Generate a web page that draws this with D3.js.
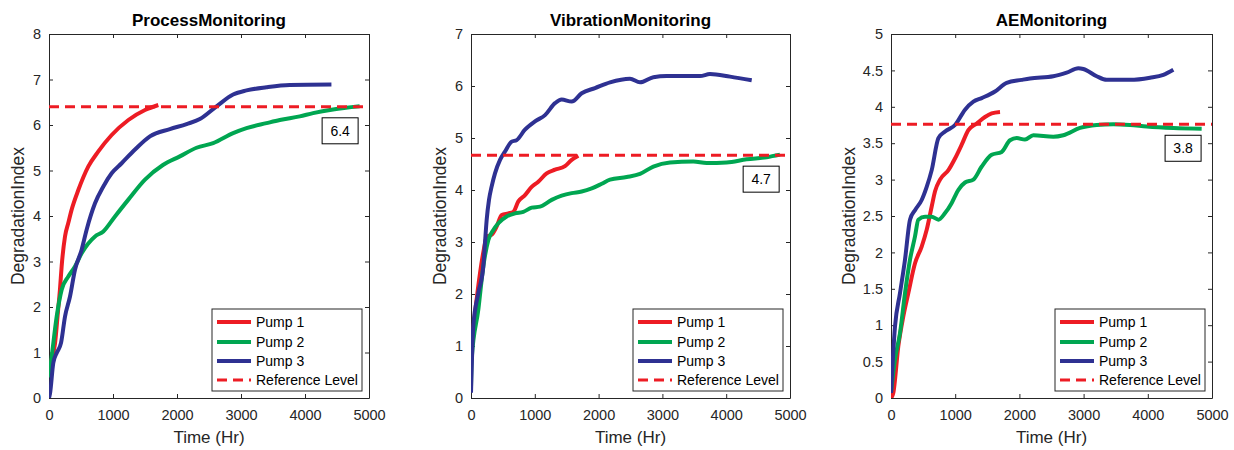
<!DOCTYPE html>
<html><head><meta charset="utf-8">
<script src="https://cdn.jsdelivr.net/npm/d3@7"></script>
<style>
body{margin:0;background:#fff;}
svg{display:block;font-family:"Liberation Sans",Arial,Helvetica,sans-serif;}
</style>
</head><body>
<svg id="c" width="1234" height="450"></svg>
<script>
// ---------------- data ----------------
const titles = ["ProcessMonitoring", "VibrationMonitoring", "AEMonitoring"];
const seriesNames = ["Pump 1", "Pump 2", "Pump 3"];
const refName = "Reference Level";
const xTickValues = [0, 1000, 2000, 3000, 4000, 5000];
const yMaxes = [8, 7, 5];
const yTickValues = [
  [0, 1, 2, 3, 4, 5, 6, 7, 8],
  [0, 1, 2, 3, 4, 5, 6, 7],
  [0, 0.5, 1, 1.5, 2, 2.5, 3, 3.5, 4, 4.5, 5]
];
const refLevels = [6.4, 4.67, 3.76];
const refLabels = ["6.4", "4.7", "3.8"];

// [time (Hr), degradation index]
const processPump1 = [[0,0.6],[50,0.9],[94,1.2],[140,1.9],[172,2.4],[198,2.9],[250,3.55],[302,3.85],[354,4.14],[458,4.57],[615,5.09],[771,5.42],[979,5.78],[1240,6.11],[1500,6.33],[1708,6.44]];
const processPump2 = [[0,0.45],[42,0.91],[120,1.79],[198,2.38],[302,2.67],[406,2.89],[510,3.18],[719,3.55],[849,3.66],[1031,3.99],[1240,4.36],[1500,4.8],[1780,5.12],[2045,5.31],[2305,5.5],[2565,5.6],[2877,5.82],[3086,5.93],[3398,6.04],[3606,6.11],[3918,6.19],[4126,6.26],[4438,6.34],[4854,6.41]];
const processPump3 = [[0,0],[16,0.1],[67,0.77],[120,0.99],[188,1.21],[250,1.79],[328,2.23],[406,2.82],[510,3.26],[588,3.7],[719,4.28],[849,4.65],[979,4.94],[1135,5.16],[1344,5.46],[1577,5.75],[1889,5.91],[2150,6.02],[2357,6.13],[2618,6.41],[2877,6.67],[3086,6.76],[3398,6.83],[3762,6.88],[4413,6.89]];

const vibrationPump1 = [[0,0.9],[60,1.6],[141,2.4],[200,2.85],[246,3.1],[324,3.14],[403,3.3],[481,3.52],[585,3.55],[663,3.58],[742,3.78],[846,3.9],[951,4.06],[1055,4.16],[1186,4.32],[1317,4.39],[1473,4.46],[1578,4.58],[1682,4.66]];
const vibrationPump2 = [[0,0.2],[10,0.74],[115,1.7],[193,2.53],[272,3.04],[350,3.23],[428,3.36],[559,3.49],[690,3.55],[820,3.58],[951,3.66],[1082,3.68],[1265,3.81],[1421,3.89],[1578,3.94],[1735,3.97],[1892,4.03],[2049,4.12],[2179,4.2],[2440,4.25],[2649,4.31],[2858,4.45],[3119,4.53],[3485,4.55],[3694,4.52],[4007,4.53],[4320,4.59],[4634,4.63],[4843,4.68]];
const vibrationPump3 = [[0,0.1],[36,1.38],[115,2.02],[193,2.53],[219,2.98],[246,3.43],[282,3.81],[324,4.07],[376,4.32],[455,4.58],[533,4.74],[637,4.93],[716,4.96],[846,5.16],[1003,5.32],[1160,5.44],[1317,5.67],[1421,5.74],[1578,5.7],[1735,5.86],[1944,5.96],[2179,6.07],[2492,6.14],[2649,6.07],[2858,6.17],[3067,6.19],[3381,6.19],[3589,6.19],[3746,6.23],[4060,6.18],[4400,6.11]];

const aePump1 = [[0,0],[36,0.07],[114,0.71],[192,1.12],[270,1.44],[374,1.85],[478,2.08],[556,2.31],[634,2.63],[686,2.84],[764,3.0],[894,3.13],[997,3.29],[1101,3.48],[1205,3.68],[1335,3.77],[1464,3.86],[1568,3.91],[1698,3.93]];
const aePump2 = [[0,0.07],[62,0.53],[140,0.89],[218,1.44],[296,1.9],[374,2.22],[426,2.45],[530,2.49],[634,2.49],[738,2.45],[842,2.54],[946,2.68],[1050,2.86],[1153,2.96],[1283,3.0],[1413,3.18],[1568,3.34],[1724,3.38],[1854,3.54],[1958,3.57],[2087,3.55],[2217,3.61],[2528,3.59],[2684,3.61],[2944,3.71],[3204,3.75],[3464,3.76],[3723,3.75],[3983,3.73],[4398,3.71],[4839,3.7]];
const aePump3 = [[0,0.07],[62,0.98],[140,1.44],[218,1.9],[296,2.45],[374,2.58],[478,2.72],[556,2.9],[634,3.13],[738,3.57],[842,3.66],[997,3.75],[1153,3.96],[1283,4.07],[1413,4.12],[1620,4.21],[1802,4.33],[2035,4.37],[2165,4.39],[2528,4.42],[2736,4.47],[2918,4.53],[2996,4.52],[3204,4.42],[3359,4.37],[3723,4.37],[4035,4.4],[4242,4.44],[4398,4.51]];

const panelSeries = [
  [processPump1, processPump2, processPump3],
  [vibrationPump1, vibrationPump2, vibrationPump3],
  [aePump1, aePump2, aePump3]
];

// ---------------- style / layout ----------------
const colors = ["#ED1C24", "#00A651", "#2E3192"];
const refColor = "#ED1C24";
const axisColor = "#262626";
const lefts = [49, 471, 891];
const widths = [320, 319, 321];
const plotTop = 34, plotHeight = 364;

const svg = d3.select("#c");

panelSeries.forEach((series, i) => {
  const left = lefts[i], w = widths[i];
  const x = d3.scaleLinear().domain([0, 5000]).range([left, left + w]);
  const y = d3.scaleLinear().domain([0, yMaxes[i]]).range([plotTop + plotHeight, plotTop]);
  const g = svg.append("g");

  const clipId = "clip" + i;
  svg.append("clipPath").attr("id", clipId).append("rect")
    .attr("x", left).attr("y", plotTop).attr("width", w).attr("height", plotHeight);

  // axes
  const fmt = d => String(d);
  const ax = [
    g.append("g").attr("transform", `translate(0,${plotTop + plotHeight})`)
      .call(d3.axisBottom(x).tickValues(xTickValues).tickFormat(fmt).tickSize(-4).tickSizeOuter(0).tickPadding(12)),
    g.append("g").attr("transform", `translate(0,${plotTop})`)
      .call(d3.axisTop(x).tickValues(xTickValues).tickFormat("").tickSize(-4).tickSizeOuter(0)),
    g.append("g").attr("transform", `translate(${left},0)`)
      .call(d3.axisLeft(y).tickValues(yTickValues[i]).tickFormat(fmt).tickSize(-4).tickSizeOuter(0).tickPadding(8)),
    g.append("g").attr("transform", `translate(${left + w},0)`)
      .call(d3.axisRight(y).tickValues(yTickValues[i]).tickFormat("").tickSize(-4).tickSizeOuter(0))
  ];
  ax.forEach(a => {
    a.select(".domain").attr("stroke", axisColor).attr("stroke-width", 1);
    a.selectAll(".tick line").attr("stroke", axisColor).attr("stroke-width", 1);
    a.selectAll(".tick text").attr("fill", axisColor).style("font-size", "14.5px")
      .style("font-family", '"Liberation Sans",Arial,sans-serif');
  });

  // lines
  const line = d3.line().x(d => x(d[0])).y(d => y(d[1])).curve(d3.curveMonotoneX);
  const pg = g.append("g").attr("clip-path", `url(#${clipId})`);
  series.forEach((s, k) => {
    pg.append("path").datum(s).attr("d", line)
      .attr("fill", "none").attr("stroke", colors[k]).attr("stroke-width", 4)
      .attr("stroke-linejoin", "round");
  });
  pg.append("line")
    .attr("x1", x(0)).attr("x2", x(5000))
    .attr("y1", y(refLevels[i])).attr("y2", y(refLevels[i]))
    .attr("stroke", refColor).attr("stroke-width", 3).attr("stroke-dasharray", "10,6");

  // value label box
  const bw = 36, bh = 26;
  const bx = x(4830) - bw, by = y(refLevels[i]) + 11;
  g.append("rect").attr("x", bx).attr("y", by).attr("width", bw).attr("height", bh)
    .attr("fill", "#fff").attr("stroke", "#000").attr("stroke-width", 1);
  g.append("text").attr("x", bx + bw / 2).attr("y", by + bh / 2 + 5)
    .attr("text-anchor", "middle").style("font-size", "14px").attr("fill", "#000")
    .text(refLabels[i]);

  // title
  g.append("text").attr("x", left + w / 2).attr("y", 26)
    .attr("text-anchor", "middle").style("font-size", "17px").style("font-weight", "bold")
    .attr("fill", "#000").text(titles[i]);

  // axis labels
  g.append("text").attr("x", left + w / 2).attr("y", 443)
    .attr("text-anchor", "middle").style("font-size", "17px").attr("fill", axisColor)
    .text("Time (Hr)");
  const ylx = i === 2 ? left - 42.5 : left - 31;
  g.append("text")
    .attr("transform", `translate(${ylx + 6},${plotTop + plotHeight / 2}) rotate(-90)`)
    .attr("text-anchor", "middle").style("font-size", "17.5px").attr("fill", axisColor)
    .text("DegradationIndex");

  // legend
  const lw = 150, lh = 82;
  const lx = left + w - 7 - lw, ly = plotTop + plotHeight - 7 - lh;
  const lg = g.append("g");
  lg.append("rect").attr("x", lx).attr("y", ly).attr("width", lw).attr("height", lh)
    .attr("fill", "#fff").attr("stroke", axisColor).attr("stroke-width", 1);
  const rows = [13, 33, 52, 71];
  const entries = seriesNames.map((n, k) => ({name: n, color: colors[k], dash: null, sw: 4}))
    .concat([{name: refName, color: refColor, dash: "10,6", sw: 3}]);
  entries.forEach((e, k) => {
    const ry = ly + rows[k];
    lg.append("line").attr("x1", lx + 5).attr("x2", lx + 39).attr("y1", ry).attr("y2", ry)
      .attr("stroke", e.color).attr("stroke-width", e.sw)
      .attr("stroke-dasharray", e.dash);
    lg.append("text").attr("x", lx + 44).attr("y", ry + 5)
      .style("font-size", "14px").attr("fill", "#000").text(e.name);
  });
});
</script>
</body></html>
